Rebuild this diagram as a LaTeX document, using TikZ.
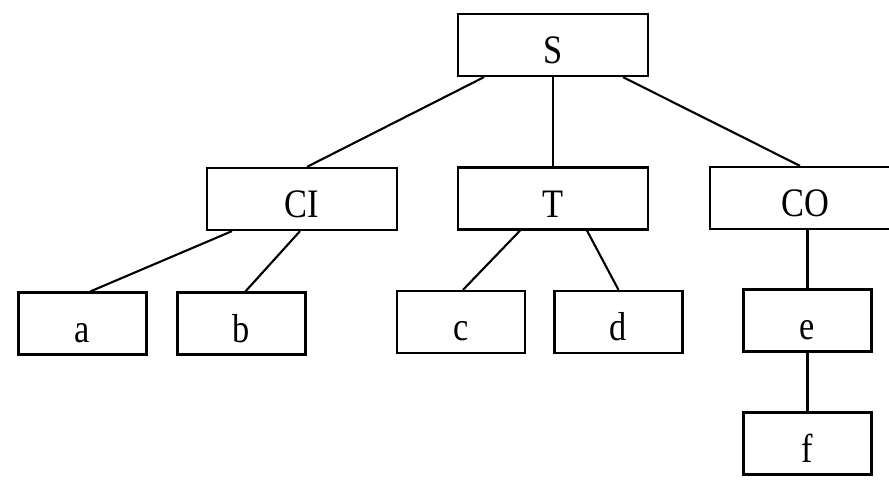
\documentclass[tikz,border=0pt]{standalone}
\usepackage{fontspec}
\setmainfont[FakeStretch=0.85]{Liberation Serif}
\usepackage{tikz}
\usetikzlibrary{calc,positioning}

\begin{document}
\begin{tikzpicture}[
		box/.style={draw,line width=1.3pt,minimum height=1.24cm,inner sep=0pt,text height=24pt,text depth=2.4pt,font=\fontsize{23}{27}\selectfont},
		big/.style={box,minimum width=3.8cm},
		small/.style={box,minimum width=2.56cm},
		edge/.style={line width=1.2pt}]
		\useasboundingbox (0,0) rectangle (17.78,-9.64);
		% upper levels
		\node[big] (S) at (11.06,-0.90) {S};
		\node[big] (CI) at (6.04,-3.98) {CI};
		\node[big] (T) at (11.06,-3.97) {T};
		\node[big] (CO) at (16.10,-3.96) {CO};
		% leaves
		\foreach \n/\x/\y in {a/1.65/-6.47,b/4.83/-6.47,c/9.22/-6.44,d/12.37/-6.44,e/16.15/-6.41,f/16.15/-8.87}
		\node[small] (\n) at (\x,\y) {\n};
		
		\draw[edge] ([xshift=-1.38cm]S.south) -- ([xshift=0.1cm]CI.north);
		\draw[edge] (S.south) -- (T.north);
		\draw[edge] ([xshift=1.4cm]S.south) -- ([xshift=-0.1cm]CO.north);
		\draw[edge] ([xshift=-1.4cm]CI.south) -- ([xshift=0.16cm]a.north);
		\draw[edge] ([xshift=-0.04cm]CI.south) -- ([xshift=0.08cm]b.north);
		\draw[edge] ([xshift=-0.66cm]T.south) -- ([xshift=0.04cm]c.north);
		\draw[edge] ([xshift=0.68cm]T.south) -- (d.north);
		\draw[edge] (CO.south -| e.north) -- (e.north);
		\draw[edge] (e.south) -- (f.north);
	\end{tikzpicture}
\end{document}
